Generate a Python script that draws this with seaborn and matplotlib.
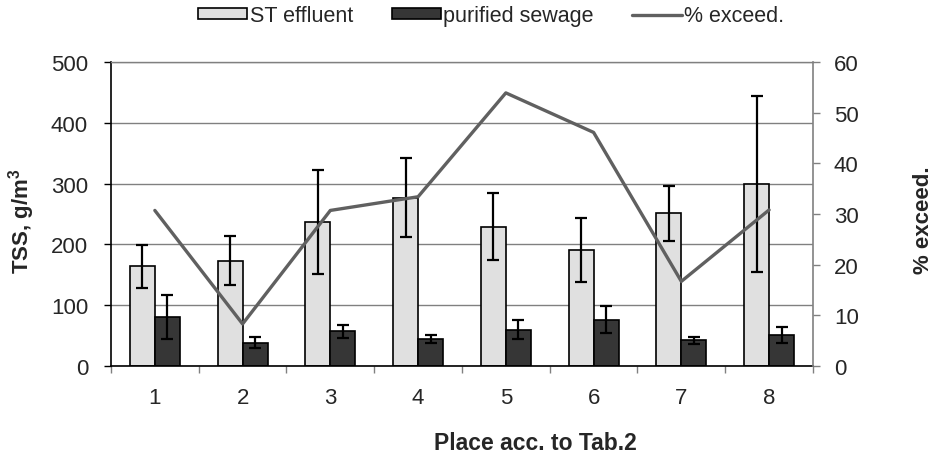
import numpy as np
import pandas as pd
import matplotlib
matplotlib.use("Agg")
import matplotlib.pyplot as plt
import seaborn as sns
from matplotlib.patches import Patch
from matplotlib.lines import Line2D
from matplotlib.ticker import FixedLocator, MultipleLocator

# Values
places = ["1", "2", "3", "4", "5", "6", "7", "8"]
st_effluent = [164, 173, 237, 277, 229, 191, 251, 299]
st_effluent_err = [35, 40, 85, 65, 55, 53, 45, 145]
purified_sewage = [81, 38, 57, 45, 60, 76, 42, 51]
purified_sewage_err = [36, 9, 11, 6.5, 16, 22, 6, 12.5]
pct_exceed = [30.7, 8.3, 30.7, 33.4, 53.9, 46.1, 16.7, 30.8]

series_names = ["ST effluent", "purified sewage", "% exceed."]
bar_colors = ["#e0e0e0", "#363636"]
line_color = "#606060"
grid_color = "#808080"

sns.set_theme(style="white")
plt.rcParams["font.family"] = ["Liberation Sans", "DejaVu Sans"]
plt.rcParams["mathtext.fontset"] = "custom"
plt.rcParams["mathtext.rm"] = "Liberation Sans"
plt.rcParams["mathtext.bf"] = "Liberation Sans:bold"

df = pd.DataFrame({
    "place": places * 2,
    "series": [series_names[0]] * len(places) + [series_names[1]] * len(places),
    "tss": st_effluent + purified_sewage,
})

fig = plt.figure(figsize=(9.38, 4.56), dpi=100)
ax = fig.add_axes([0.1183, 0.1952, 0.7484, 0.6667])

sns.barplot(data=df, x="place", y="tss", hue="series", palette=bar_colors,
            width=0.57, gap=0, errorbar=None, edgecolor="black", linewidth=1.2,
            legend=False, ax=ax, zorder=2)

# error bars on top of each bar
for container, errs in zip(ax.containers, [st_effluent_err, purified_sewage_err]):
    xs = [b.get_x() + b.get_width() / 2 for b in container]
    hs = [b.get_height() for b in container]
    ax.errorbar(xs, hs, yerr=errs, fmt="none", ecolor="black",
                elinewidth=1.6, capsize=4, capthick=1.6, zorder=3)

ax.set_ylim(0, 500)
ax.yaxis.set_major_locator(MultipleLocator(100))
ax.set_xlim(-0.5, len(places) - 0.5)
ax.yaxis.grid(True, color=grid_color, lw=1.0)
ax.set_axisbelow(True)

ax.xaxis.set_minor_locator(FixedLocator(np.arange(-0.5, len(places), 1)))
ax.tick_params(axis="x", which="major", bottom=False, length=0, pad=15, labelsize=16)
ax.tick_params(axis="x", which="minor", bottom=True, direction="out", length=5,
               width=1, color=grid_color)
ax.tick_params(axis="y", left=True, direction="out", length=5, width=1,
               color="black", pad=11.5, labelsize=16)

for side in ["left", "bottom"]:
    ax.spines[side].set_color("black")
    ax.spines[side].set_linewidth(1.2)
ax.spines["top"].set_color(grid_color)
ax.spines["top"].set_linewidth(1.0)
ax.spines["right"].set_visible(False)

ax.set_xlabel("Place acc. to Tab.2", fontsize=16.5, fontweight="bold")
ax.xaxis.set_label_coords(0.604, -0.215)
ax.set_ylabel(r"TSS, g/m$^{\mathbf{3}}$", fontsize=16, fontweight="bold")
ax.yaxis.set_label_coords(-0.105, 0.48)

# % exceed. on the secondary axis
ax2 = ax.twinx()
sns.lineplot(x=np.arange(len(places)), y=pct_exceed, color=line_color, lw=2.4, ax=ax2)
ax2.set_ylim(0, 60)
ax2.yaxis.set_major_locator(MultipleLocator(10))
ax2.set_xlim(-0.5, len(places) - 0.5)
ax2.tick_params(axis="y", right=True, direction="out", length=5, width=1,
                color=grid_color, pad=10, labelsize=16)
for side in ["left", "top", "bottom"]:
    ax2.spines[side].set_visible(False)
ax2.spines["right"].set_color(grid_color)
ax2.spines["right"].set_linewidth(1.2)
ax2.set_ylabel("% exceed.", fontsize=16, fontweight="bold")
ax2.yaxis.set_label_coords(1.1425, 0.484)

handles = [Patch(facecolor=c, edgecolor="black", lw=1.2) for c in bar_colors]
handles.append(Line2D([], [], color=line_color, lw=2.4))
fig.legend(handles, series_names, loc="center", bbox_to_anchor=(0.5235, 0.963),
           ncol=3, frameon=False, fontsize=15.5, handlelength=2.3,
           handleheight=0.45, handletextpad=0.1, columnspacing=1.8)

fig.savefig("out.png", dpi=100)
